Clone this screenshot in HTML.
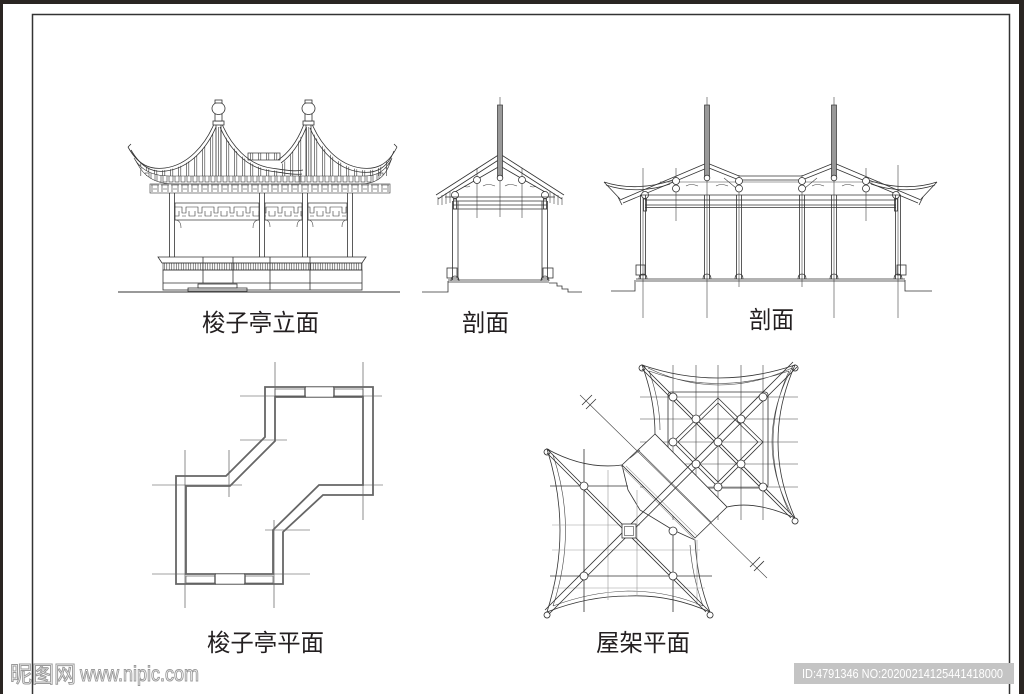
<!DOCTYPE html>
<html><head><meta charset="utf-8"><style>
html,body{margin:0;padding:0;background:#fff;}
svg{display:block;}
.l{fill:none;stroke:#333;stroke-width:.8;}
.t{fill:none;stroke:#444;stroke-width:.6;}
.g{fill:none;stroke:#999;stroke-width:.6;}
.w{fill:#fff;stroke:#333;stroke-width:.8;}
.lab{font-family:"Liberation Sans","Noto Sans CJK SC",sans-serif;font-size:24px;fill:#231f20;}
</style></head><body>
<svg width="1024" height="694" viewBox="0 0 1024 694" xmlns="http://www.w3.org/2000/svg">
<defs>
<pattern id="pv" width="8" height="20" patternUnits="userSpaceOnUse"><path d="M2.5 0V20M4.8 0V20" stroke="#333" stroke-width=".6"/></pattern>
<pattern id="pr" x="0" y="170" width="6" height="14" patternUnits="userSpaceOnUse"><rect x="1" y="3" width="4" height="9" fill="none" stroke="#333" stroke-width=".6"/></pattern>
<pattern id="pb" x="0" y="184" width="10" height="9" patternUnits="userSpaceOnUse"><path d="M1 1h8M2 1v7M8 1v7M3 5h4" stroke="#333" stroke-width=".6" fill="none"/></pattern>
<pattern id="pf" width="2.4" height="10" patternUnits="userSpaceOnUse"><path d="M1.2 0V10" stroke="#333" stroke-width=".6"/></pattern>
<pattern id="pl" x="0" y="203" width="16" height="17" patternUnits="userSpaceOnUse"><path d="M0 4H6V10H10V4H16M0 13H3V8M13 8V13H16M6 13H10" stroke="#333" stroke-width=".6" fill="none"/></pattern>
</defs>

<!-- frame -->
<rect x="0" y="0" width="1024" height="4" fill="#2a2522"/>
<rect x="0" y="0" width="3" height="694" fill="#2a2522"/>
<rect x="1019" y="0" width="5" height="694" fill="#2a2522"/>
<path d="M32.5 694V14.5H1009.5V694" fill="none" stroke="#333" stroke-width="1.5"/>

<!-- ========== ELEVATION ========== -->
<g>
<path d="M282,176 L282,164 C292,156 298,142 306,127 L310,127 C321,148 338,167 361,170 C372,171 380,170 388,160 L388,176 Z" fill="url(#pv)"/>
<path class="l" d="M304,124 C298,140 290,152 278,160"/>
<path class="l" d="M306,128 C300,143 292,155 281,163"/>
<path class="l" d="M312,124 C321,145 338,165 361,168 C376,170 388,165 397,147"/>
<path class="l" d="M310,128 C319,149 336,169 360,172 C375,174 387,169 394,151"/>
<path d="M282,176 L365,176 C378,176 386,170 392,158 L388,168 C383,178 375,184 360,184 L282,184 Z" fill="url(#pr)" stroke="#333" stroke-width=".6"/>
<rect x="248" y="153" width="32" height="7" fill="url(#pv)" stroke="#333" stroke-width=".7"/>
<path d="M140,176 L140,162 C150,170 155,171 166,170 C190,167 207,148 216,127 L220,127 C231,148 248,167 271,170 C285,172 292,173 300,174 L300,176 Z" fill="#fff"/>
<path d="M140,176 L140,162 C150,170 155,171 166,170 C190,167 207,148 216,127 L220,127 C231,148 248,167 271,170 C285,172 292,173 300,174 L300,176 Z" fill="url(#pv)"/>
<path class="l" d="M128,147 C138,165 150,170 165,168 C188,165 205,145 214,124"/>
<path class="l" d="M131,150 C141,167 152,173 166,171 C190,168 207,148 216,127"/>
<path class="l" d="M222,124 C231,145 248,165 271,168 C285,170 295,172 303,170"/>
<path class="l" d="M220,127 C229,148 246,168 270,171 C284,173 294,175 302,174"/>
<path class="l" d="M128,147 L131,144 M397,147 L394,144"/>
<path d="M134,158 C142,172 155,176 170,176 L300,176 L300,184 L175,184 C160,184 148,180 140,168 Z" fill="#fff"/>
<path d="M134,158 C142,172 155,176 170,176 L300,176 L300,184 L175,184 C160,184 148,180 140,168 Z" fill="url(#pr)" stroke="#333" stroke-width=".6"/>
<rect x="150" y="184" width="240" height="9" fill="url(#pb)" stroke="#333" stroke-width=".6"/>
<path class="l" d="M216,125V176M221,125V176M306,125V176M311,125V176"/>
<g class="w">
<rect x="213" y="121" width="11" height="4"/>
<rect x="215" y="114" width="7" height="7"/>
<ellipse cx="218.5" cy="108.5" rx="6.5" ry="6"/>
<rect x="215" y="100" width="7" height="3"/>
<rect x="303" y="121" width="11" height="4"/>
<rect x="305" y="114" width="7" height="7"/>
<ellipse cx="308.5" cy="108.5" rx="6.5" ry="6"/>
<rect x="305" y="100" width="7" height="3"/>
</g>
<path class="l" d="M169.5,193V257M174.5,193V257M259.5,193V257M264.5,193V257M302.5,193V257M307.5,193V257M347.5,193V257M352.5,193V257"/>
<rect x="175" y="203" width="84" height="17" fill="url(#pl)" stroke="#333" stroke-width=".7"/>
<rect x="265" y="203" width="37" height="17" fill="url(#pl)" stroke="#333" stroke-width=".7"/>
<rect x="308" y="203" width="39" height="17" fill="url(#pl)" stroke="#333" stroke-width=".7"/>
<path class="t" d="M175,220 q6,0 6,8 M259,220 q-6,0 -6,8 M265,220 q5,0 5,7 M302,220 q-5,0 -5,7 M308,220 q5,0 5,7 M347,220 q-5,0 -5,7"/>
<path class="w" d="M158,257 L366,257 L362,263 L162,263 Z"/>
<rect x="163" y="263" width="199" height="7" fill="url(#pf)" stroke="#333" stroke-width=".6"/>
<path class="l" d="M203,257V270M233,257V270M270,257V270M310,257V270"/>
<rect class="l" x="163" y="270" width="199" height="20"/>
<path class="l" d="M163,283H362M203,270V283M233,270V283M270,270V290M310,270V290"/>
<rect class="l" x="198" y="284" width="39" height="4"/>
<rect class="l" x="188" y="288" width="59" height="3.5"/>
<path d="M118,292H400" stroke="#333" stroke-width="1"/>
</g>

<!-- ========== SECTION 1 ========== -->
<g>
<path class="t" d="M500,97V217M477,168V218M522,168V218"/>
<path class="l" d="M500,154 L436,195 M500,159 L438,199 M500,166 L455,192 M500,154 L564,195 M500,159 L562,199 M500,166 L545,192"/>
<path class="t" d="M438,197v8M442,195v10M446,193v11M450,191v12M562,197v8M558,195v10M554,193v11M550,191v12"/>
<rect x="497.5" y="105" width="5" height="72" fill="#999" stroke="#333" stroke-width=".7"/>
<circle class="w" cx="500" cy="178" r="2.8"/>
<circle class="w" cx="477" cy="180" r="3.5"/>
<circle class="w" cx="522" cy="180" r="3.5"/>
<circle class="w" cx="455" cy="195" r="3.5"/>
<circle class="w" cx="545" cy="195" r="3.5"/>
<path class="t" d="M483,186 q5,-3 12,0 M505,186 q5,-3 12,0 M470,186 q-3,2 -6,0 M530,186 q3,2 6,0"/>
<path class="l" d="M445,197H555M453,201H547M453,205H547M453,209H547"/>
<rect class="l" x="453.5" y="199" width="3" height="10"/>
<rect class="l" x="543.5" y="199" width="3" height="10"/>
<path class="l" d="M452.5,201V280M458,201V280M542,201V280M547.5,201V280"/>
<rect class="l" x="447" y="268" width="10" height="10"/>
<rect class="l" x="543" y="268" width="10" height="10"/>
<path class="l" d="M451,281 q0,-5 4,-5 q4,0 4,5 M541,281 q0,-5 4,-5 q4,0 4,5"/>
<path class="l" d="M448,280H549M448,282H549"/>
<path class="l" d="M422,292H448V281 M549,283H557V286H562V289H568V292H582"/>
</g>

<!-- ========== SECTION 2 ========== -->
<g>
<path class="t" d="M643,168V318M676,168V221M707,97V318M739,175V287M802,175V287M834,97V318M866,168V221M898,165V318"/>
<path class="l" d="M707,163 L620,200 M707,168 L623,203 M618,197 L622,205"/>
<path class="l" d="M604,182 C625,189 650,188 673,180 M604,182 L620,199 M606,185 C626,192 650,191 670,184"/>
<path class="l" d="M834,163 L921,200 M834,168 L918,203 M923,197 L919,205"/>
<path class="l" d="M937,182 C916,189 891,188 868,180 M937,182 L921,199 M935,185 C915,192 891,191 871,184"/>
<path class="l" d="M707,163 L739,176 H802 L834,163 M709,168 L739,180 H802 L832,168"/>
<path class="t" d="M660,182H880M724,178 l12,10 M817,178 l-12,10"/>
<rect x="704.5" y="105" width="5" height="72" fill="#999" stroke="#333" stroke-width=".7"/>
<rect x="831.5" y="105" width="5" height="72" fill="#999" stroke="#333" stroke-width=".7"/>
<circle class="w" cx="707" cy="178" r="2.8"/>
<circle class="w" cx="834" cy="178" r="2.8"/>
<g class="w">
<circle cx="676" cy="181" r="3.5"/><circle cx="676" cy="188.5" r="3.5"/>
<circle cx="739" cy="181" r="3.5"/><circle cx="739" cy="188.5" r="3.5"/>
<circle cx="802" cy="181" r="3.5"/><circle cx="802" cy="188.5" r="3.5"/>
<circle cx="866" cy="181" r="3.5"/><circle cx="866" cy="188.5" r="3.5"/>
<circle cx="645" cy="195" r="3.5"/><circle cx="896" cy="195" r="3.5"/>
</g>
<path class="t" d="M686,186 q5,-3 12,0 M716,186 q5,-3 12,0 M812,186 q5,-3 12,0 M842,186 q5,-3 12,0"/>
<path class="l" d="M640,195H901M645,200H896M645,205H896M645,207.5H896"/>
<rect class="l" x="643.5" y="199" width="3" height="12"/>
<rect class="l" x="894.5" y="199" width="3" height="12"/>
<path class="l" d="M640.5,195V279M645.5,195V279M704.5,195V279M709.5,195V279M736.5,195V279M741.5,195V279M799.5,195V279M804.5,195V279M831.5,195V279M836.5,195V279M895.5,195V279M900.5,195V279"/>
<path class="l" d="M639,279q0,-5 4,-5q4,0 4,5M703,279q0,-5 4,-5q4,0 4,5M735,279q0,-5 4,-5q4,0 4,5M798,279q0,-5 4,-5q4,0 4,5M830,279q0,-5 4,-5q4,0 4,5M894,279q0,-5 4,-5q4,0 4,5"/>
<rect class="l" x="636" y="265" width="9" height="10"/>
<rect class="l" x="897" y="265" width="9" height="10"/>
<path class="l" d="M636,279H905M636,281H905"/>
<path class="l" d="M611,291H635V280 M905,280V291H932"/>
</g>

<!-- ========== PLAN ========== -->
<g>
<path class="t" d="M275,362V397M363,362V520M185,450V608M229,450V497M274,520V608M240,396H382M240,440H287M152,485H242M362,485H383M265,530H310M152,574H310"/>
<path d="M265,387 H373 V495 H323 L283,532 V584 H176 V476 H226 L265,437 Z" fill="none" stroke="#666" stroke-width="1.8"/>
<path d="M275,397 H363 V485 H319 L273,530 V574 H186 V486 H230 L275,441 Z" fill="none" stroke="#666" stroke-width="1.8"/>
<path d="M306,388H333M306,396H333M216,575H244M216,583H244" stroke="#fff" stroke-width="2.5"/>
<path class="t" d="M305,387H334M305,397H334M215,574H245M215,584H245"/>
<path d="M305,387V397M334,387V397M215,574V584M245,574V584" stroke="#666" stroke-width="1.4"/>
<rect class="t" x="275" y="389" width="30" height="7"/>
<rect class="t" x="334" y="389" width="29" height="7"/>
<rect class="t" x="186" y="576" width="29" height="7"/>
<rect class="t" x="245" y="576" width="28" height="7"/>
</g>

<!-- ========== ROOF PLAN ========== -->
<g>
<!-- lower-left star -->
<path class="w" d="M547,449 Q585,470 622,465 L628,490 L640,510 L673,530 L695,540 Q697,580 710,612 Q669,594 628,596 Q588,596 547,612 Q573,530 547,449 Z"/>
<path class="t" d="M553,606 Q590,592 628,591 Q668,591 703,606 M553,455 Q578,530 553,606 M703,606 Q692,575 690,545"/>
<path class="g" d="M608,470V600M637,490V596M697,540V605M552,525H640M552,550H700M552,588H705M620,465L695,540"/>
<path class="l" d="M584,449V612M550,486H628M550,576H712M673,530V612"/>
<!-- upper-right star -->
<path class="w" d="M642,365 Q718,391 795,365 Q761,442 795,518 Q755,500 727,507 L655,434 Q655,400 642,365 Z"/>
<path class="t" d="M649,371 Q718,396 789,371 M789,371 Q757,442 789,512 M649,371 Q660,402 660,430 M648,368 Q718,402 792,368 M792,368 Q752,442 792,515"/>
<path class="t" d="M673,365V520M696,365V520M718,365V520M741,365V520M763,365V520M640,397H798M640,419H798M640,442H798M640,464H798M640,487H798"/>
<rect class="l" x="668" y="392" width="100" height="96" rx="3"/>
<path class="l" d="M718,398 L763,442 L718,487 L673,442 Z M718,403 L758,442 L718,482 L678,442 Z"/>
<!-- band -->
<path class="w" d="M622,465 L655,434 L727,507 L695,538 Z"/>
<path class="g" d="M626,466 L697,536"/>
<path class="t" d="M638,450 L711,522 M630,458 L640,450"/>
<!-- diagonals -->
<path class="l" d="M545,610 L793,362 M549,614 L797,367"/>
<path class="l" d="M547,449 L710,612 M547,453 L706,612 M642,365 L795,518 M642,369 L791,518"/>
<path class="l" d="M547,449 a3,3 0 1,0 0.1,0 M547,612 a3,3 0 1,0 0.1,0 M710,612 a3,3 0 1,0 0.1,0 M642,365 a3,3 0 1,0 0.1,0 M795,365 a3,3 0 1,0 0.1,0 M795,518 a3,3 0 1,0 0.1,0"/>
<g class="w">
<circle cx="673" cy="397" r="4"/><circle cx="763" cy="397" r="4"/>
<circle cx="696" cy="419" r="4"/><circle cx="741" cy="419" r="4"/>
<circle cx="673" cy="442" r="4"/><circle cx="718" cy="442" r="4"/>
<circle cx="696" cy="464" r="4"/><circle cx="741" cy="464" r="4"/>
<circle cx="718" cy="487" r="4"/><circle cx="763" cy="487" r="4"/>
<circle cx="584" cy="486" r="4"/><circle cx="673" cy="531" r="4"/>
<circle cx="584" cy="576" r="4"/><circle cx="673" cy="576" r="4"/>
<rect x="622" y="524" width="14" height="14"/>
</g>
<rect class="t" x="624.5" y="526.5" width="9" height="9"/>
<path class="t" d="M580,395 L767,578"/>
<path class="l" d="M582,405 L592,395 M586,409 L596,399 M750,567 L760,557 M754,571 L764,561"/>
</g>

<!-- labels -->
<text class="lab" x="202" y="331" textLength="117" lengthAdjust="spacingAndGlyphs">梭子亭立面</text>
<text class="lab" x="462" y="331" textLength="47" lengthAdjust="spacingAndGlyphs">剖面</text>
<text class="lab" x="749" y="328" textLength="45" lengthAdjust="spacingAndGlyphs">剖面</text>
<text class="lab" x="207" y="651" textLength="117" lengthAdjust="spacingAndGlyphs">梭子亭平面</text>
<text class="lab" x="596" y="651" textLength="94" lengthAdjust="spacingAndGlyphs">屋架平面</text>

<!-- watermark -->
<text x="10" y="682" font-family="Liberation Sans,Noto Sans CJK SC,sans-serif" font-size="23" fill="#fff" stroke="#9a9a9a" stroke-width="1" textLength="66" lengthAdjust="spacingAndGlyphs">昵图网</text>
<text x="80" y="681" font-family="Liberation Sans,sans-serif" font-size="21" fill="#fff" stroke="#9a9a9a" stroke-width="1" textLength="119" lengthAdjust="spacingAndGlyphs">www.nipic.com</text>
<rect x="794" y="663" width="220" height="21" fill="#c4c4c4"/>
<text x="802" y="678" font-family="Liberation Sans,sans-serif" font-size="13" fill="#fff" textLength="201" lengthAdjust="spacingAndGlyphs">ID:4791346 NO:20200214125441418000</text>
</svg>
</body></html>
